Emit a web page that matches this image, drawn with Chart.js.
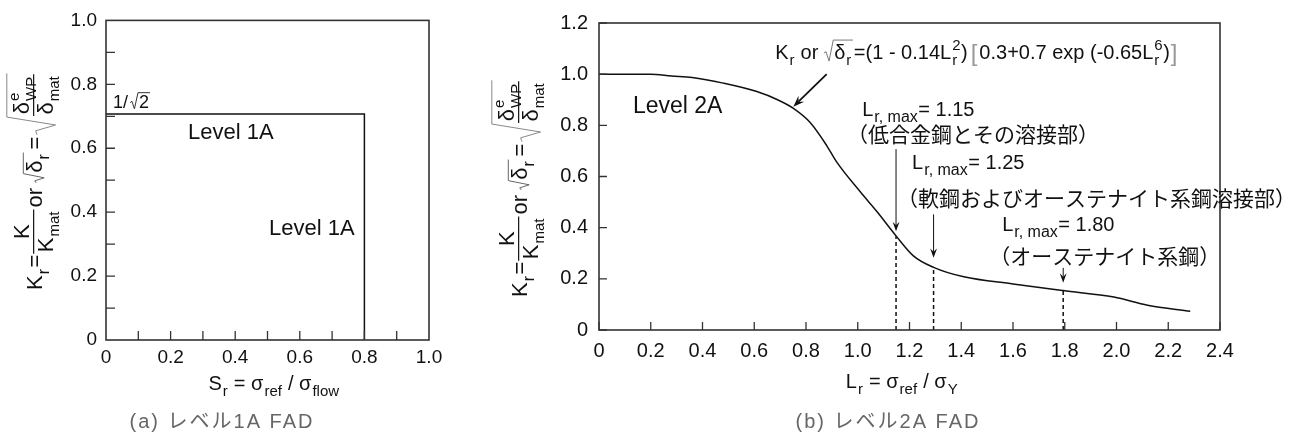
<!doctype html>
<html lang="ja">
<head>
<meta charset="utf-8">
<title>FAD Level 1A / Level 2A</title>
<script src="https://cdn.jsdelivr.net/npm/chart.js@4.4.0/dist/chart.umd.min.js"></script>
<style>
  body { margin: 0; background: #fff; }
  #wrap { position: relative; width: 1299px; height: 439px; overflow: hidden; }
  #fad1 { position: absolute; left: 0; top: 0; }
  #fad2 { position: absolute; left: 450px; top: 0; }
</style>
</head>
<body>
<div id="wrap">
  <canvas id="fad1" width="450" height="439"></canvas>
  <canvas id="fad2" width="849" height="439"></canvas>
</div>
<script>
// ---- (a) level 1A : rectangle Kr = 1/sqrt2 up to Sr = 0.8
var sr1A = [0, 0.8, 0.8];
var kr1A = [0.7071, 0.7071, 0];
var ticks1 = [0, 0.2, 0.4, 0.6, 0.8, 1.0];
var minor1 = [0.1, 0.2, 0.3, 0.4, 0.5, 0.6, 0.7, 0.8, 0.9];

// ---- (b) level 2A curve
var lr2A = [0, 0.1, 0.2, 0.28, 0.36, 0.48, 0.61, 0.69, 0.75, 0.816, 0.88, 0.919, 1.009, 1.074,
            1.148, 1.215, 1.293, 1.41, 1.6, 1.794, 1.99, 2.12, 2.285];
var kr2A = [1.0, 1.0, 1.0, 0.993, 0.987, 0.965, 0.932, 0.9, 0.867, 0.811, 0.721, 0.656, 0.541, 0.463,
            0.368, 0.29, 0.245, 0.208, 0.18, 0.154, 0.129, 0.097, 0.073];
// Lr,max cut-offs (dashed drop lines as drawn in the figure)
var lrMax = [1.148, 1.293, 1.794];
var krAtMax = [0.368, 0.245, 0.154];
var lrMaxText = ['1.15', '1.25', '1.80'];
var lrMaxNote = ['（低合金鋼とその溶接部）', '（軟鋼およびオーステナイト系鋼溶接部）', '（オーステナイト系鋼）'];
var xTicks2 = [0, 0.2, 0.4, 0.6, 0.8, 1.0, 1.2, 1.4, 1.6, 1.8, 2.0, 2.2, 2.4];
var yTicks2 = [0, 0.2, 0.4, 0.6, 0.8, 1.0, 1.2];

var FONT = '"Liberation Sans", Arial, "Noto Sans CJK JP", sans-serif';
var JP = '"Noto Sans CJK JP", sans-serif';

function pts(xs, ys) {
  return xs.map(function (x, i) { return { x: x, y: ys[i] }; });
}
function fmt(v) { return v === 0 ? '0' : v.toFixed(1); }

// tiny rich-text writer: strings, sub/sup, fractions, radicals
function rich(ctx, run, x, y, size, draw) {
  var x0 = x;
  run.forEach(function (p) {
    if (typeof p === 'string') p = { t: p };
    if (p.gap) { x += p.gap; return; }
    if (p.t !== undefined) {
      ctx.font = (p.size || size) + 'px ' + FONT;
      if (draw) { ctx.fillStyle = p.color || '#111'; ctx.fillText(p.t, x, y + (p.dy || 0)); }
      x += ctx.measureText(p.t).width;
      return;
    }
    if (p.sub !== undefined || p.sup !== undefined) {
      var ss = Math.round(size * (p.k || 0.74)), w = 0;
      ctx.font = ss + 'px ' + FONT;
      ctx.fillStyle = '#111';
      if (p.sup) { if (draw) ctx.fillText(p.sup, x + 1, y - size * 0.45); w = ctx.measureText(p.sup).width; }
      if (p.sub) { if (draw) ctx.fillText(p.sub, x + 1, y + size * 0.3); w = Math.max(w, ctx.measureText(p.sub).width); }
      x += w + 1.5;
      return;
    }
    if (p.frac) {
      var wn = rich(ctx, p.frac[0], 0, 0, size, false);
      var wd = rich(ctx, p.frac[1], 0, 0, size, false);
      var fw = Math.max(wn, wd) + 3, bar = y - size * 0.38;
      if (draw) {
        rich(ctx, p.frac[0], x + (fw - wn) / 2, bar - size * 0.2, size, true);
        rich(ctx, p.frac[1], x + (fw - wd) / 2, bar + size * 0.86, size, true);
        ctx.beginPath(); ctx.moveTo(x, bar); ctx.lineTo(x + fw, bar);
        ctx.lineWidth = 1.2; ctx.strokeStyle = '#111'; ctx.stroke();
      }
      x += fw;
      return;
    }
    if (p.sqrt) {
      var wb = rich(ctx, p.sqrt, 0, 0, size, false);
      var top = y - size * p.top, bot = y + size * p.bot, h = bot - top;
      var rw = h * 0.3 + 3, ym = bot - h * 0.38;
      if (draw) {
        ctx.beginPath();
        ctx.moveTo(x, ym); ctx.lineTo(x + rw * 0.22, ym - 1.5);
        ctx.lineTo(x + rw * 0.55, bot); ctx.lineTo(x + rw, top);
        ctx.lineTo(x + rw + wb + 2, top);
        ctx.lineWidth = 1; ctx.strokeStyle = p.color || '#444'; ctx.stroke();
        rich(ctx, p.sqrt, x + rw + 1, y, size, true);
      }
      x += rw + wb + 3;
    }
  });
  return x - x0;
}

function arrow(ctx, x1, y1, x2, y2, head, lw) {
  var a = Math.atan2(y2 - y1, x2 - x1);
  ctx.strokeStyle = '#111'; ctx.fillStyle = '#111'; ctx.lineWidth = lw;
  ctx.beginPath(); ctx.moveTo(x1, y1);
  ctx.lineTo(x2 - Math.cos(a) * head * 0.6, y2 - Math.sin(a) * head * 0.6); ctx.stroke();
  ctx.beginPath();
  ctx.moveTo(x2, y2);
  ctx.lineTo(x2 - head * Math.cos(a - 0.35), y2 - head * Math.sin(a - 0.35));
  ctx.lineTo(x2 - head * 0.6 * Math.cos(a), y2 - head * 0.6 * Math.sin(a));
  ctx.lineTo(x2 - head * Math.cos(a + 0.35), y2 - head * Math.sin(a + 0.35));
  ctx.closePath(); ctx.fill();
}

// frame around plot + inward tick marks
function framePlugin(xMinor, yMinor, tl) {
  return {
    id: 'frame',
    afterDraw: function (chart) {
      var c = chart.ctx, a = chart.chartArea, sx = chart.scales.x, sy = chart.scales.y;
      c.save();
      c.strokeStyle = '#333'; c.lineWidth = 1.6;
      c.strokeRect(a.left, a.top, a.right - a.left, a.bottom - a.top);
      c.lineWidth = 1.3;
      c.beginPath();
      xMinor.forEach(function (v) {
        var px = sx.getPixelForValue(v);
        c.moveTo(px, a.bottom); c.lineTo(px, a.bottom - tl);
      });
      yMinor.forEach(function (v) {
        var py = sy.getPixelForValue(v);
        c.moveTo(a.left, py); c.lineTo(a.left + tl, py);
      });
      c.stroke();
      c.restore();
    }
  };
}

function yTitleRun() {
  return ['K', { sub: 'r' }, { gap: 1 }, '=', { gap: 1 },
    { frac: [['K'], ['K', { sub: 'mat', k: 0.68 }]] }, { gap: 2 }, 'or', { gap: 5 },
    { sqrt: ['δ', { sub: 'r' }], top: 0.85, bot: 0.1, color: '#666' }, { gap: 2 }, '=', { gap: 2 },
    { sqrt: [{ frac: [['δ', { sub: 'WP', sup: 'e', k: 0.66 }], ['δ', { sub: 'mat', k: 0.68 }]] }], top: 1.6, bot: 0.62, color: '#888' }];
}

function axisOpts(ticks, size, pad, min, max) {
  return {
    type: 'linear', min: min, max: max,
    grid: { display: false, drawTicks: false },
    border: { display: false },
    afterBuildTicks: function (s) { s.ticks = ticks.map(function (v) { return { value: v }; }); },
    ticks: { color: '#111', padding: pad, font: { family: FONT, size: size }, callback: fmt, autoSkip: false, maxRotation: 0 }
  };
}

function caption(c, text, cx) {
  c.font = '20px ' + FONT; c.fillStyle = '#666'; c.textAlign = 'center';
  if ('letterSpacing' in c) c.letterSpacing = '2px';
  c.fillText(text, cx, 428);
  if ('letterSpacing' in c) c.letterSpacing = '0px';
}

// ---------------- chart (a)
var notes1 = {
  id: 'notes1',
  afterDraw: function (chart) {
    var c = chart.ctx, sx = chart.scales.x, sy = chart.scales.y;
    c.save();
    c.textBaseline = 'alphabetic'; c.textAlign = 'left';
    rich(c, ['1/', { gap: 2 }, { sqrt: ['2'], top: 0.85, bot: 0.05, color: '#333' }],
      sx.getPixelForValue(0.022), sy.getPixelForValue(0.726), 18, true);
    c.font = '22px ' + FONT; c.fillStyle = '#111';
    c.fillText('Level 1A', sx.getPixelForValue(0.254), sy.getPixelForValue(0.629));
    c.fillText('Level 1A', sx.getPixelForValue(0.505), sy.getPixelForValue(0.327));
    // x title
    var run = ['S', { sub: 'r' }, ' = σ', { sub: 'ref' }, ' / σ', { sub: 'flow' }];
    var w = rich(c, run, 0, 0, 20, false);
    rich(c, run, 274 - w / 2, 390, 20, true);
    // y title
    c.save(); c.translate(42, 290); c.rotate(-Math.PI / 2);
    rich(c, yTitleRun(), 0, 0, 22, true);
    c.restore();
    caption(c, '(a) レベル1A FAD', 222);
    c.restore();
  }
};

new Chart(document.getElementById('fad1'), {
  type: 'scatter',
  data: {
    datasets: [{
      label: 'Level 1A', data: pts(sr1A, kr1A), showLine: true, tension: 0,
      borderColor: '#111', borderWidth: 1.5, pointRadius: 0
    }]
  },
  options: {
    responsive: false, animation: false,
    layout: { autoPadding: false, padding: { left: 0, right: 21, top: 19, bottom: 0 } },
    plugins: { legend: { display: false }, tooltip: { enabled: false } },
    scales: {
      x: Object.assign(axisOpts(ticks1, 19, 6, 0, 1), { afterFit: function (s) { s.height = 99; } }),
      y: Object.assign(axisOpts(ticks1, 19, 9, 0, 1), { afterFit: function (s) { s.width = 106; } })
    }
  },
  plugins: [framePlugin(minor1, minor1, 9), notes1]
});

// ---------------- chart (b)
var notes2 = {
  id: 'notes2',
  afterDraw: function (chart) {
    var c = chart.ctx, sx = chart.scales.x, sy = chart.scales.y;
    var X = function (v) { return sx.getPixelForValue(v); };
    var Y = function (v) { return sy.getPixelForValue(v); };
    c.save();
    c.textBaseline = 'alphabetic'; c.textAlign = 'left';
    c.font = '23px ' + FONT; c.fillStyle = '#111';
    c.fillText('Level 2A', X(0.131), Y(0.849));
    // formula
    rich(c, ['K', { sub: 'r' }, ' or ', { sqrt: ['δ', { sub: 'r' }], top: 0.95, bot: 0.1, color: '#777' },
      '=(1 - 0.14L', { sub: 'r', sup: '2' }, ')', { gap: 3 }, { t: '[', color: '#999', size: 24, dy: 2 }, { gap: 2 },
      '0.3+0.7 exp (-0.65L', { sub: 'r', sup: '6' }, ')', { gap: 1 }, { t: ']', color: '#999', size: 24, dy: 2 }],
      X(0.681), Y(1.059), 20, true);
    arrow(c, X(0.880), Y(1.0), X(0.751), Y(0.873), 12, 1.8);
    // Lr,max notes
    var lx = [1.017, 1.210, 1.558], ly = [0.838, 0.629, 0.386];
    var nx = [0.958, 1.152, 1.508], ny = [0.768, 0.514, 0.29];
    for (var i = 0; i < 3; i++) {
      rich(c, ['L', { sub: 'r, max', k: 0.8 }, '= ' + lrMaxText[i]], X(lx[i]), Y(ly[i]), 20, true);
      c.font = '21px ' + JP; c.fillStyle = '#111'; c.textBaseline = 'middle';
      c.fillText(lrMaxNote[i], X(nx[i]), Y(ny[i]));
      c.textBaseline = 'alphabetic';
    }
    var a0 = [0.707, 0.452, 0.243], a1 = [0.386, 0.282, 0.185];
    for (var j = 0; j < 3; j++) arrow(c, X(lrMax[j]), Y(a0[j]), X(lrMax[j]), Y(a1[j]), 10, 1);
    // x title
    var run = ['L', { sub: 'r' }, ' = σ', { sub: 'ref' }, ' / σ', { sub: 'Y' }];
    var w = rich(c, run, 0, 0, 20, false);
    rich(c, run, 452 - w / 2, 388, 20, true);
    // y title
    c.save(); c.translate(77, 297); c.rotate(-Math.PI / 2);
    rich(c, yTitleRun(), 0, 0, 22, true);
    c.restore();
    caption(c, '(b) レベル2A FAD', 438);
    c.restore();
  }
};

var drops = lrMax.map(function (x, i) {
  return {
    label: 'Lr,max ' + lrMaxText[i], data: pts([x, x], [0, krAtMax[i]]), showLine: true,
    borderColor: '#111', borderWidth: 1.5, borderDash: [4, 3], pointRadius: 0
  };
});

new Chart(document.getElementById('fad2'), {
  type: 'scatter',
  data: {
    datasets: [{
      label: 'Level 2A', data: pts(lr2A, kr2A), showLine: true, cubicInterpolationMode: 'monotone',
      borderColor: '#111', borderWidth: 1.5, pointRadius: 0
    }].concat(drops)
  },
  options: {
    responsive: false, animation: false,
    layout: { autoPadding: false, padding: { left: 0, right: 79, top: 19, bottom: 0 } },
    plugins: { legend: { display: false }, tooltip: { enabled: false } },
    scales: {
      x: Object.assign(axisOpts(xTicks2, 20, 9, 0, 2.4), { afterFit: function (s) { s.height = 109; } }),
      y: Object.assign(axisOpts(yTicks2, 20, 11, 0, 1.2), { afterFit: function (s) { s.width = 149; } })
    }
  },
  plugins: [framePlugin(xTicks2, yTicks2, 8), notes2]
});
</script>
</body>
</html>
